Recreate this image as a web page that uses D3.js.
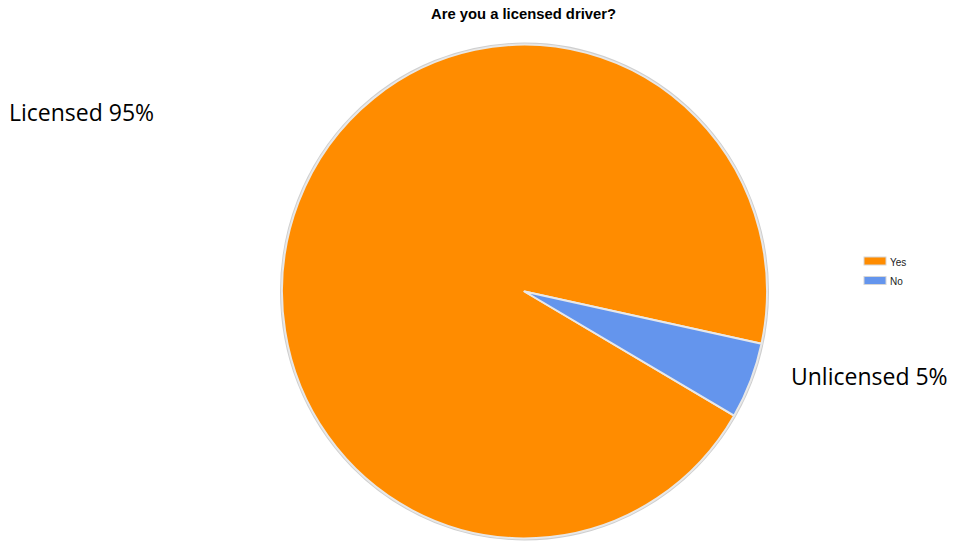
<!DOCTYPE html>
<html>
<head>
<meta charset="utf-8">
<script src="https://cdn.jsdelivr.net/npm/d3@7"></script>
<style>
  html, body { margin: 0; padding: 0; background: #fff; }
  svg { display: block; }
</style>
</head>
<body>
<svg id="chart" width="953" height="542"></svg>
<script>
// Survey answers
const categories = ["Yes", "No"];
const values = [95, 5];
const colors = ["#FF8C00", "#6495ED"];
const titleText = "Are you a licensed driver?";
const calloutTexts = ["Licensed 95%", "Unlicensed 5%"];

const svg = d3.select("#chart");

// Pie geometry
const cx = 524.5, cy = 291.5, r = 242.5, yStretch = 1.018;
const startDeg = 120.2;

const pie = d3.pie()
  .sort(null)
  .value(d => d.value)
  .startAngle(startDeg * Math.PI / 180)
  .endAngle(startDeg * Math.PI / 180 + 2 * Math.PI);

const data = categories.map((c, i) => ({ cat: c, value: values[i] }));
const color = d3.scaleOrdinal().domain(categories).range(colors);
const arc = d3.arc().innerRadius(0).outerRadius(r);

const g = svg.append("g")
  .attr("transform", `translate(${cx},${cy}) scale(1,${yStretch})`);

// soft outer rim
g.append("circle")
  .attr("r", r + 1)
  .attr("fill", "none")
  .attr("stroke", "#cfcfcf")
  .attr("stroke-width", 2)
  .attr("vector-effect", "non-scaling-stroke");

g.selectAll("path.slice")
  .data(pie(data))
  .join("path")
  .attr("class", "slice")
  .attr("d", arc)
  .attr("fill", d => color(d.data.cat))
  .attr("stroke", "#e8e8e8")
  .attr("stroke-width", 2)
  .attr("stroke-linejoin", "round")
  .attr("vector-effect", "non-scaling-stroke");

// Title
svg.append("text")
  .attr("x", 523.5)
  .attr("y", 18.5)
  .attr("text-anchor", "middle")
  .attr("font-family", "Arial, 'Liberation Sans', sans-serif")
  .attr("font-weight", "bold")
  .attr("font-size", 14.8)
  .attr("fill", "#000")
  .text(titleText);

// Legend
const legend = svg.append("g").attr("transform", "translate(864,257)");
const items = legend.selectAll("g")
  .data(categories)
  .join("g")
  .attr("transform", (d, i) => `translate(0,${i * 19.5})`);
items.append("rect")
  .attr("x", 0).attr("y", 0)
  .attr("width", 22).attr("height", 8)
  .attr("fill", d => color(d))
  .attr("stroke", "#d6d6d6")
  .attr("stroke-width", 1);
items.append("text")
  .attr("x", 26)
  .attr("y", 8.5)
  .attr("font-family", "Arial, 'Liberation Sans', sans-serif")
  .attr("font-size", 10)
  .attr("fill", "#222")
  .text(d => d);

// Callout annotations
const calloutFont = "'Open Sans', Lato, sans-serif";
svg.append("text")
  .attr("x", 9)
  .attr("y", 121)
  .attr("font-family", calloutFont)
  .attr("font-size", 23)
  .attr("fill", "#000")
  .text(calloutTexts[0]);
svg.append("text")
  .attr("x", 791)
  .attr("y", 385)
  .attr("font-family", calloutFont)
  .attr("font-size", 23)
  .attr("fill", "#000")
  .text(calloutTexts[1]);
</script>
</body>
</html>
